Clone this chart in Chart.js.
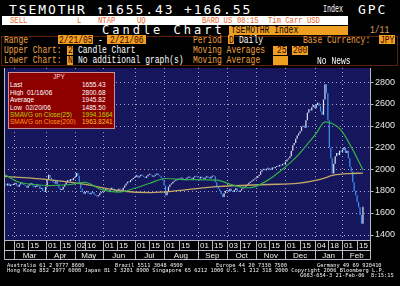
<!DOCTYPE html>
<html><head><meta charset="utf-8">
<script src="https://cdn.jsdelivr.net/npm/chart.js@4.4.1/dist/chart.umd.min.js"></script>
<style>
html,body{margin:0;padding:0;background:#000;width:400px;height:286px;overflow:hidden}
#wrap{position:relative;width:400px;height:286px;background:#000;overflow:hidden}
.t{position:absolute;white-space:pre;line-height:1;transform-origin:0 0}
.r{position:absolute}
#c{position:absolute;left:0;top:66px}
</style></head><body><div id="wrap"><canvas id="c" width="400" height="200"></canvas></div>
<script>
// ---------- DATA ----------
const holidays = ['2005-03-21','2005-04-29','2005-05-03','2005-05-04','2005-05-05','2005-07-18','2005-09-19','2005-09-23','2005-10-10','2005-11-03','2005-11-23','2005-12-23','2005-12-30','2006-01-02','2006-01-03','2006-01-09'];
const firstDay = '2005-02-21';
const lastAxisDay = '2006-02-28';
const closesFeb05 = [1860,1850,1870,1845,1860,1855];
const closesMar05 = [1865,1875,1850,1840,1860,1880,1870,1855,1845,1830,1850,1865,1870,1850,1835,1840,1860,1850,1820,1830,1800,1790];
const closesApr05 = [1840,1900,1950,1920,1900,1880,1870,1890,1860,1830,1810,1815,1840,1860,1880,1900,1890,1910,1900,1920];
const closesMay05 = [1930,1965,1940,1880,1820,1790,1775,1790,1800,1780,1770,1785,1790,1770,1760,1750,1760,1780,1790];
const closesJun05 = [1800,1810,1820,1800,1790,1810,1830,1820,1800,1795,1810,1820,1815,1800,1830,1850,1870,1885,1880,1900,1910,1920];
const closesJul05 = [1930,1945,1925,1935,1950,1940,1930,1920,1935,1950,1955,1945,1930,1940,1950,1960,1945,1935,1920,1900];
const closesAug05 = [1850,1760,1800,1840,1860,1870,1885,1895,1900,1910,1905,1915,1920,1910,1900,1915,1925,1930,1920,1910,1925,1935,1930];
const closesSep05 = [1925,1915,1930,1920,1910,1925,1935,1920,1915,1930,1940,1935,1880,1840,1820,1800,1770,1745,1780,1800];
const closesOct05 = [1810,1795,1820,1800,1790,1810,1825,1800,1790,1805,1820,1830,1840,1850,1860,1875,1885,1895,1905,1915];
const closesNov05 = [1920,1935,1950,1980,1995,2000,1990,2005,2010,1995,2000,2015,2010,2020,2030,2025,2040,2035,2050,2045];
const closesDec05 = [2070,2090,2100,2120,2170,2220,2240,2280,2310,2330,2350,2390,2400,2380,2450,2520,2550,2540,2570,2590];
const closesJan06 = [2560,2590,2610,2580,2530,2500,2640,2780,2700,2450,2200,2100,1960,2050,2120,2150,2130,2170,2160];
const closesFeb06 = [2180,2200,2150,2170,2100,2020,1980,1880,1800,1760,1700,1650,1580,1500,1655];
// moving averages: [trading-day number, value]
const ma25Pts = [[0,1950],[10,1880],[20,1860],[30,1850],[45,1860],[55,1880],[65,1820],[78,1790],[90,1830],[100,1875],[110,1915],[125,1905],[145,1900],[155,1860],[165,1830],[170,1835],[180,1900],[190,2000],[200,2120],[207,2230],[213,2330],[219,2435],[224,2420],[230,2360],[238,2180],[245,1994]];
const ma200Pts = [[0,1935],[30,1905],[55,1860],[80,1800],[100,1786],[120,1805],[145,1840],[180,1860],[200,1870],[215,1905],[225,1945],[235,1960],[245,1964]];
const yTicks = [1400,1600,1800,2000,2200,2400,2600,2800];
const dayTicks = [['2005-03-01','01'],['2005-03-15','15'],['2005-04-01','01'],['2005-04-15','15'],['2005-05-02','02'],['2005-05-16','16'],['2005-06-01','01'],['2005-06-15','15'],['2005-07-01','01'],['2005-07-15','15'],['2005-08-01','01'],['2005-08-15','15'],['2005-09-01','01'],['2005-09-15','15'],['2005-10-03','03'],['2005-10-17','17'],['2005-11-01','01'],['2005-11-15','15'],['2005-12-01','01'],['2005-12-15','15'],['2006-01-04','04'],['2006-01-18','18'],['2006-02-01','01'],['2006-02-15','15']];
const monthTicks = [['2005-03-01','Mar'],['2005-04-01','Apr'],['2005-05-02','May'],['2005-06-01','Jun'],['2005-07-01','Jul'],['2005-08-01','Aug'],['2005-09-01','Sep'],['2005-10-03','Oct'],['2005-11-01','Nov'],['2005-12-01','Dec'],['2006-01-04','Jan'],['2006-02-01','Feb']];

// ---------- BUILD ----------
function tradingDays(start, end, hol){
  const out=[]; let d=new Date(start+'T00:00:00Z'); const e=new Date(end+'T00:00:00Z');
  while(d<=e){ const wd=d.getUTCDay(); const s=d.toISOString().slice(0,10);
    if(wd!==0&&wd!==6&&!hol.includes(s)) out.push(s); d=new Date(d.getTime()+86400000); }
  return out;
}
const labels = tradingDays(firstDay, lastAxisDay, holidays);
const closes = [].concat(closesFeb05,closesMar05,closesApr05,closesMay05,closesJun05,closesJul05,closesAug05,closesSep05,closesOct05,closesNov05,closesDec05,closesJan06,closesFeb06);
const candle = closes.map((c,i)=>[i?closes[i-1]:c, c]);
const UP='#dcdcf0', DOWN='#3b8ff5';
const candleColors = closes.map((c,i)=> (i && c<closes[i-1]) ? DOWN : UP);
const ptsToData = pts => pts.map(([i,v])=>({x:labels[i], y:v}));

const bbg = {
  id:'bbg',
  beforeDraw(ch){ const {ctx, chartArea:a}=ch; ctx.save(); ctx.fillStyle='#16165c'; ctx.fillRect(a.left,a.top,a.right-a.left,a.bottom-a.top); ctx.restore(); },
  beforeDatasetsDraw(ch){
    const {ctx, chartArea:a, scales:{x,y}}=ch; ctx.save();
    ctx.strokeStyle='rgba(200,200,230,0.8)'; ctx.lineWidth=1; ctx.setLineDash([1,3]);
    yTicks.forEach(v=>{ const py=Math.round(y.getPixelForValue(v))+0.5; ctx.beginPath(); ctx.moveTo(a.left,py); ctx.lineTo(a.right,py); ctx.stroke(); });
    monthTicks.forEach(([d])=>{ const px=Math.round(x.getPixelForValue(labels.indexOf(d)))+0.5; ctx.beginPath(); ctx.moveTo(px,a.top); ctx.lineTo(px,a.bottom); ctx.stroke(); });
    ctx.restore();
  },
  afterDraw(ch){
    const {ctx, chartArea:a, scales:{x,y}}=ch; ctx.save();
    ctx.strokeStyle='#b8b8c8'; ctx.lineWidth=1; ctx.setLineDash([]);
    const L=Math.round(a.left)+0.5, R=Math.round(a.right)-0.5, B=Math.round(a.bottom)+0.5;
    const r1=B+10, r2=B+19;
    ctx.beginPath();
    ctx.moveTo(L,a.top); ctx.lineTo(L,r2);
    ctx.moveTo(R,a.top); ctx.lineTo(R,r2);
    ctx.moveTo(L,B); ctx.lineTo(R,B);
    ctx.moveTo(L,r1); ctx.lineTo(R,r1);
    ctx.moveTo(L,r2); ctx.lineTo(R,r2);
    yTicks.forEach(v=>{ const py=Math.round(y.getPixelForValue(v))+0.5; ctx.moveTo(R,py); ctx.lineTo(R+3,py); });
    dayTicks.forEach(([d])=>{ const px=Math.round(x.getPixelForValue(labels.indexOf(d)))+0.5; ctx.moveTo(px,B); ctx.lineTo(px,r1); });
    monthTicks.forEach(([d])=>{ const px=Math.round(x.getPixelForValue(labels.indexOf(d)))+0.5; ctx.moveTo(px,r1); ctx.lineTo(px,r2); });
    ctx.stroke();
    ctx.fillStyle='#f0f0f0'; ctx.font='8px "Liberation Sans"'; ctx.textBaseline='middle'; ctx.textAlign='left';
    dayTicks.forEach(([d,t])=>{ const px=x.getPixelForValue(labels.indexOf(d)); ctx.fillText(t, Math.round(px)+2, B+5.5); });
    ctx.textAlign='center';
    monthTicks.forEach(([d,t],k)=>{ const p0=x.getPixelForValue(labels.indexOf(d)); const p1=k<monthTicks.length-1?x.getPixelForValue(labels.indexOf(monthTicks[k+1][0])):a.right; ctx.fillText(t,(p0+p1)/2, B+15); });
    ctx.restore();
  }
};

new Chart(document.getElementById('c'), {
  data:{ labels, datasets:[
    {type:'line', label:'SMAVG(25)', data:ptsToData(ma25Pts), borderColor:'#2fb04a', borderWidth:1.2, pointRadius:0, cubicInterpolationMode:'monotone', order:0},
    {type:'line', label:'SMAVG(200)', data:ptsToData(ma200Pts), borderColor:'#c0a868', borderWidth:1.3, pointRadius:0, cubicInterpolationMode:'monotone', order:0},
    {type:'bar', label:'TSEMOTHR', data:candle, backgroundColor:candleColors, borderWidth:0, barPercentage:0.85, categoryPercentage:1, minBarLength:1, order:1}
  ]},
  options:{
    responsive:false, animation:false, devicePixelRatio:1,
    layout:{padding:{left:4, top:2, right:0, bottom:26}},
    plugins:{legend:{display:false}, tooltip:{enabled:false}},
    scales:{
      x:{type:'category', offset:true, grid:{display:false, drawTicks:false}, border:{display:false}, ticks:{display:false}, afterFit:s=>{s.height=0; s.paddingLeft=0; s.paddingRight=0;}},
      y:{position:'right', min:1350, max:2930, afterBuildTicks:s=>{s.ticks=yTicks.map(v=>({value:v}));}, afterFit:s=>{s.width=29; s.paddingTop=0; s.paddingBottom=0;},
         grid:{display:false, drawTicks:false}, border:{display:false},
         ticks:{color:'#e6e6e6', font:{family:'Liberation Sans', size:9}, padding:4, callback:v=>String(v)}}
    }
  },
  plugins:[bbg]
});

// ---------- TEXT ----------
const W=document.getElementById('wrap');
function T(x,y,s,o={}){
  const d=document.createElement('div'); d.className='t'; d.textContent=s;
  d.style.left=x+'px'; d.style.top=y+'px';
  d.style.fontFamily=o.f||'"Liberation Mono"'; d.style.fontSize=(o.s||10)+'px';
  d.style.color=o.c||'#fff';
  if(o.ls) d.style.letterSpacing=o.ls+'px';
  d.style.transform=`scale(${o.sx||1},${o.sy||1})`;
  W.appendChild(d); return d;
}
function Rct(x,y,w,h,bg,border){ const d=document.createElement('div'); d.className='r'; Object.assign(d.style,{left:x+'px',top:y+'px',width:w+'px',height:h+'px',background:bg||'transparent',boxSizing:'border-box'}); if(border) d.style.border=border; W.appendChild(d); return d; }
const ORG='#eea040', BOX='#f0a020', BT='#3a0000';
const big={f:'"DejaVu Sans Mono"', s:13, ls:1.9};
const sm={s:10, sx:0.8};
// row 1
T(9,2.5,'TSEMOTHR \u21911655.43 +166.55',big);
T(323,4.9,'Index',{s:10,sx:0.67});
T(358,2.5,'GPC',big);
// row 2
Rct(2,16,346,8.5,'#ffffff');
const o2={s:9,sx:0.8,c:'#e8641e'};
T(10,16.5,'SELL',o2); T(77,16.5,'L',o2); T(98,16.5,'NTAP',o2); T(137,16.5,'UQ',o2);
T(202,16.5,'BARD US',o2); T(237,16.5,'08:15',o2); T(268,16.5,'Tim Carr USD',o2);
// row 3
T(102,23.6,'Candle Chart',{f:'"DejaVu Sans Mono"', s:12, ls:3});
Rct(229,26,119,9,BOX);
T(231,26.2,'TSEMOTHR Index',{...sm,c:'#000'});
T(370,26.2,'1/11',{...sm,c:'#e0a060'});
// frame of settings
Rct(1,35.5,397,30,'transparent','1px solid #5a2008');
// row 4
T(4,35.6,'Range',{...sm,c:ORG});
Rct(58,35,35,9,BOX); T(59,35.6,'2/21/05',{...sm,c:BT});
T(98,35.6,'-',sm);
Rct(107,35,39,9,BOX); T(110,35.6,'2/21/06',{...sm,c:BT});
T(193,35.6,'Period',{...sm,c:ORG});
Rct(228,35,6,9,BOX); T(229,35.6,'D',{...sm,c:BT});
T(239,35.6,'Daily',sm);
T(303,35.6,'Base Currency:',{...sm,c:ORG});
Rct(379,35,16,9,BOX); T(380,35.6,'JPY',{...sm,c:BT});
// row 5
T(4,46.2,'Upper Chart:',{...sm,c:ORG});
Rct(67,45.5,6,9,BOX); T(68,46.2,'2',{...sm,c:BT});
T(78,46.2,'Candle Chart',sm);
T(193,46.2,'Moving Averages',{...sm,c:ORG});
Rct(273,45.5,14,9,BOX); T(277,46.2,'25',{...sm,c:BT});
Rct(292,45.5,16,9,BOX); T(293,46.2,'200',{...sm,c:BT});
// row 6
T(4,56.2,'Lower Chart:',{...sm,c:ORG});
Rct(67,55.5,6,9,BOX); T(68,56.2,'N',{...sm,c:BT});
T(78,56.2,'No additional graph(s)',sm);
T(193,56.2,'Moving Average',{...sm,c:ORG});
Rct(273,55.5,15,9,BOX);
T(317,56.8,'No News',sm);
// legend box
Rct(8,71.5,107,57,'#8c0000','1px solid #c89090');
const lg={f:'"Liberation Sans"', s:13, sx:0.5, sy:0.5};
T(53,73.2,'JPY',{...lg,c:'#ffd8d8'});
const rowsL=[['Last','1655.43','#fff','#fff'],['High  01/16/06','2800.68','#fff','#fff'],['Average','1945.82','#fff','#fff'],['Low  02/20/06','1485.50','#fff','#fff'],['SMAVG on Close(25)','1994.1664','#b4cc10','#b4d400'],['SMAVG on Close(200)','1963.8241','#ff9a1a','#ffc030']];
rowsL.forEach((r,k)=>{ const y=81.2+k*7.45; T(9.5,y,r[0],{...lg,c:r[2]}); T(82,y,r[1],{...lg,c:r[3]}); });
// footer
const ft={f:'"DejaVu Sans Mono"', s:12, sx:0.447, sy:0.45, c:'#f0f0f0'};
T(7,262,'Australia 61 2 9777 8600',ft); T(115,262,'Brazil 5511 3048 4500',ft); T(216,262,'Europe 44 20 7330 7500',ft); T(317,262,'Germany 49 69 920410',ft);
T(7,267,'Hong Kong 852 2977 6000 Japan 81 3 3201 8900 Singapore 65 6212 1000 U.S. 1 212 318 2000 Copyright 2006 Bloomberg L.P.',ft);
T(300,272,'G663-654-3 21-Feb-06  8:15:15',ft);
</script></body></html>
